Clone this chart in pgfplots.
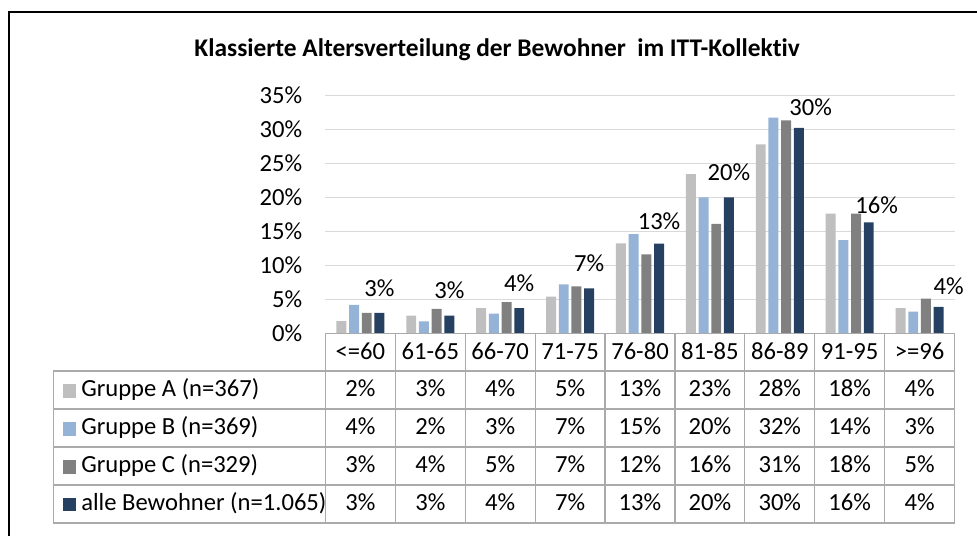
\documentclass[border=0pt]{standalone}
\usepackage{fontspec}
\setmainfont{Carlito}[Ligatures={NoCommon}]
\usepackage{pgfplots}
\pgfplotsset{compat=1.18}
\usepackage{pgfplotstable}

\definecolor{cA}{RGB}{191,191,191}
\definecolor{cB}{RGB}{149,179,215}
\definecolor{cC}{RGB}{128,128,128}
\definecolor{cD}{RGB}{38,64,97}
\definecolor{gridc}{RGB}{217,217,217}
\definecolor{tabc}{RGB}{170,170,170}

% x = category index, A..D = percent per group, dx/dy = label nudges (pt)
\pgfplotstableread{
x  A     B     C     D     dx   dy
0  1.8   4.2   3.0   3.0   0    0
1  2.6   1.75  3.6   2.6   0    0
2  3.7   2.9   4.6   3.7   0    0
3  5.4   7.2   6.9   6.6   0    0
4  13.25 14.6  11.6  13.2  0   -1.5
5  23.4  20.0  16.1  20.0  0    0
6  27.8  31.7  31.3  30.2  6   -2.2
7  17.6  13.7  17.6  16.3  4   -4
8  3.7   3.2   5.1   3.9   5   -2.5
}\data

\newcommand\bodyfont{\fontsize{12.4}{15}\selectfont}

\begin{document}
\begin{tikzpicture}
\bodyfont
\begin{scope}[x=0.5pt, y=-0.5pt, shift={(0pt,267pt)}]
  \path[use as bounding box] (0,0) rectangle (978,534);
\end{scope}

\begin{axis}[
  at={(164pt,99pt)}, anchor=south west,
  scale only axis, width=317pt, height=120pt,
  xmin=-0.5, xmax=8.5, ymin=0, ymax=35,
  ybar=1.4pt, bar width=5pt,
  ytick={0,5,...,35}, xtick=\empty,
  ymajorgrids, grid style={gridc, line width=0.75pt},
  axis line style={draw=none},
  major tick length=0pt,
  /pgf/number format/assume math mode=true,
  yticklabel={\pgfmathprintnumber{\tick}\%},
  yticklabel style={inner sep=0pt, xshift=-11.5pt, font=\bodyfont},
  clip=false,
]
\addplot[fill=cA, draw=none] table[x=x, y=A] {\data};
\addplot[fill=cB, draw=none] table[x=x, y=B] {\data};
\addplot[fill=cC, draw=none] table[x=x, y=C] {\data};
\addplot[fill=cD, draw=none,
  visualization depends on=\thisrow{dx}\as\ldx,
  visualization depends on=\thisrow{dy}\as\ldy,
  nodes near coords={\pgfmathprintnumber[fixed,precision=0]{\pgfplotspointmeta}\%},
  every node near coord/.append style={anchor=base, inner sep=0pt, black,
     font=\bodyfont,
     xshift=\ldx pt, yshift={(8.5+\ldy)*1pt}},
  point meta=y,
  ] table[x=x, y=D] {\data};
\end{axis}

\begin{scope}[x=0.5pt, y=-0.5pt, shift={(0pt,267pt)}]
  % outer frame (top and left visible)
  \draw[black, line width=0.65pt] (9,540) -- (9,12) -- (985,12);
  % title
  \node[anchor=base, inner sep=0pt, font=\fontsize{12.8}{15}\selectfont\bfseries] at (501,57)
     {Klassierte Altersverteilung der Bewohner\ \ im ITT-Kollektiv};
  % table grid
  \begin{scope}[draw=tabc, line width=0.65pt]
    \draw (328,336) rectangle (962,374);
    \draw (54,374) rectangle (962,527);
    \foreach \k in {1,...,8} \draw ({328+\k*70.444},336) -- ({328+\k*70.444},527);
    \draw (328,374) -- (328,527);
    \foreach \r in {412.25,450.5,488.75} \draw (54,\r) -- (962,\r);
  \end{scope}
  % category labels
  \foreach \c [count=\i from 0] in {<=60,61-65,66-70,71-75,76-80,81-85,86-89,91-95,>=96}
    \node[anchor=base, inner sep=0pt] at ({328+(\i+0.5)*70.444},362.5) {\c};
  % legend column
  \foreach \col/\name [count=\j from 0] in {cA/{Gruppe A (n=367)},cB/{Gruppe B (n=369)},cC/{Gruppe C (n=329)},cD/{alle Bewohner (n=1.065)}} {
    \fill[\col] (63.3,{387.3+\j*38.25}) rectangle (76.7,{400.7+\j*38.25});
    \node[anchor=base west, inner sep=0pt] at (81.5,{400+\j*38.25}) {\name};
  }
  % values
  \foreach \row/\vals in {0/{2,3,4,5,13,23,28,18,4},1/{4,2,3,7,15,20,32,14,3},2/{3,4,5,7,12,16,31,18,5},3/{3,3,4,7,13,20,30,16,4}} {
    \foreach \v [count=\i from 0] in \vals
      \node[anchor=base, inner sep=0pt] at ({328+(\i+0.5)*70.444},{400+\row*38.25}) {\v\%};
  }
\end{scope}
\end{tikzpicture}
\end{document}
